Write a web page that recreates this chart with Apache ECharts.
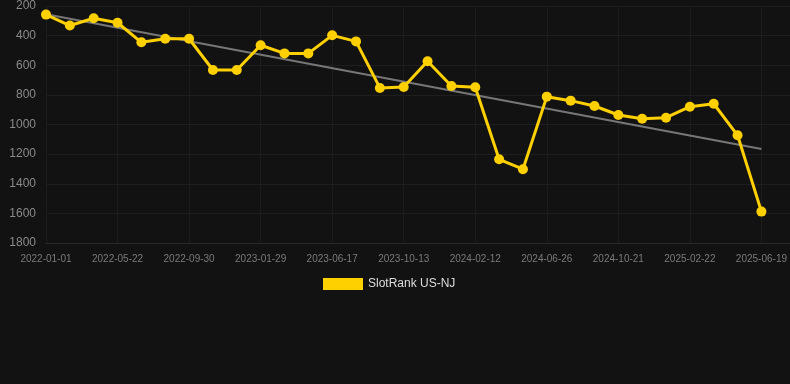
<!DOCTYPE html>
<html>
<head>
<meta charset="utf-8">
<script src="https://cdn.jsdelivr.net/npm/echarts@6/dist/echarts.min.js"></script>
<style>
html,body{margin:0;padding:0;background:#121212;}
#chart{width:790px;height:384px;}
</style>
</head>
<body>
<div id="chart"></div>
<script>
const categories = [
  '2022-01-01','2022-02-17','2022-04-05',
  '2022-05-22','2022-07-05','2022-08-17',
  '2022-09-30','2022-11-09','2022-12-19',
  '2023-01-29','2023-03-16','2023-05-01',
  '2023-06-17','2023-07-26','2023-09-03',
  '2023-10-13','2023-11-23','2024-01-02',
  '2024-02-12','2024-03-28','2024-05-12',
  '2024-06-26','2024-08-04','2024-09-12',
  '2024-10-21','2024-12-01','2025-01-11',
  '2025-02-22','2025-04-01','2025-05-10',
  '2025-06-19'
];
const rankValues = [
  258, 332, 283, 313, 445, 421, 421, 632, 632,
  465, 520, 520, 398, 439, 753, 747, 573, 740,
  749, 1235, 1302, 812, 839, 875, 936, 961, 954,
  880, 860, 1073, 1588
];
const trendStart = 255;
const trendEnd = 1165;
const trendValues = categories.map((c, i) => i === 0 ? trendStart : (i === categories.length - 1 ? trendEnd : null));
const yTicks = { min: 200, max: 1800, interval: 200 };

const font = 'Liberation Sans, Arial, sans-serif';
const chart = echarts.init(document.getElementById('chart'), null, { renderer: 'canvas' });
chart.setOption({
  backgroundColor: '#121212',
  animation: false,
  grid: [
    { left: 46, right: 28, top: 6, bottom: 141, containLabel: false },
    { left: 46, right: 0, top: 6, bottom: 141, containLabel: false }
  ],
  legend: {
    data: ['SlotRank US-NJ'],
    top: 273,
    left: 318,
    itemWidth: 40,
    itemHeight: 12,
    icon: 'rect',
    textStyle: { color: '#dddddd', fontSize: 12, fontFamily: font }
  },
  xAxis: [
    {
      type: 'category',
      gridIndex: 0,
      data: categories,
      boundaryGap: false,
      axisLine: { show: false },
      axisTick: { show: false },
      axisLabel: { interval: 2, color: '#7a7a7a', fontSize: 10, margin: 11, fontFamily: font },
      splitLine: { show: true, interval: 2, lineStyle: { color: '#1c1c1c', width: 1 } }
    },
    {
      type: 'value',
      gridIndex: 1,
      min: 0, max: 1,
      axisLine: { show: true, lineStyle: { color: '#2a2a2a' } },
      axisTick: { show: false },
      axisLabel: { show: false },
      splitLine: { show: false }
    }
  ],
  yAxis: [
    {
      type: 'value',
      gridIndex: 0,
      inverse: true,
      min: yTicks.min,
      max: yTicks.max,
      interval: yTicks.interval,
      axisLine: { show: false },
      axisTick: { show: false },
      axisLabel: { color: '#8a8a8a', fontSize: 12, margin: 10, fontFamily: font, formatter: v => String(v) },
      splitLine: { show: false }
    },
    {
      type: 'value',
      gridIndex: 1,
      inverse: true,
      min: yTicks.min,
      max: yTicks.max,
      interval: yTicks.interval,
      axisLine: { show: false },
      axisTick: { show: false },
      axisLabel: { show: false },
      splitLine: { show: true, lineStyle: { color: '#1e1e1e', width: 1 } }
    }
  ],
  series: [
    {
      name: 'Trend',
      type: 'line',
      xAxisIndex: 0, yAxisIndex: 0,
      data: trendValues,
      connectNulls: true,
      symbol: 'none',
      lineStyle: { color: '#777777', width: 2 },
      z: 3,
      silent: true
    },
    {
      name: 'SlotRank US-NJ',
      type: 'line',
      xAxisIndex: 0, yAxisIndex: 0,
      data: rankValues,
      symbol: 'circle',
      symbolSize: 10,
      itemStyle: { color: '#ffd000' },
      lineStyle: { color: '#ffd000', width: 3 },
      z: 4
    }
  ]
});
</script>
</body>
</html>
